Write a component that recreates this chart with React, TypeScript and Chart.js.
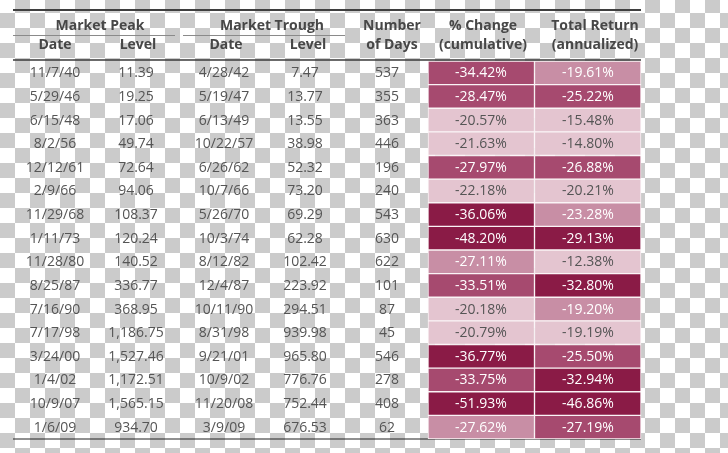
import React, { useEffect, useRef } from "react";
import { Chart, registerables } from "chart.js";
Chart.register(...registerables);

// ---- data ----
const peakDates = ["11/7/40", "5/29/46", "6/15/48", "8/2/56", "12/12/61", "2/9/66", "11/29/68", "1/11/73", "11/28/80", "8/25/87", "7/16/90", "7/17/98", "3/24/00", "1/4/02", "10/9/07", "1/6/09"];
const peakLevels = [11.39, 19.25, 17.06, 49.74, 72.64, 94.06, 108.37, 120.24, 140.52, 336.77, 368.95, 1186.75, 1527.46, 1172.51, 1565.15, 934.7];
const troughDates = ["4/28/42", "5/19/47", "6/13/49", "10/22/57", "6/26/62", "10/7/66", "5/26/70", "10/3/74", "8/12/82", "12/4/87", "10/11/90", "8/31/98", "9/21/01", "10/9/02", "11/20/08", "3/9/09"];
const troughLevels = [7.47, 13.77, 13.55, 38.98, 52.32, 73.2, 69.29, 62.28, 102.42, 223.92, 294.51, 939.98, 965.8, 776.76, 752.44, 676.53];
const numberOfDays = [537, 355, 363, 446, 196, 240, 543, 630, 622, 101, 87, 45, 546, 278, 408, 62];
const pctChange = [-34.42, -28.47, -20.57, -21.63, -27.97, -22.18, -36.06, -48.2, -27.11, -33.51, -20.18, -20.79, -36.77, -33.75, -51.93, -27.62];
const totalReturn = [-19.61, -25.22, -15.48, -14.8, -26.88, -20.21, -23.28, -29.13, -12.38, -32.8, -19.2, -19.19, -25.5, -32.94, -46.86, -27.19];

// ---- styling (shade level per cell, 0 = lightest) ----
const pctShade = [2, 2, 0, 0, 2, 0, 3, 3, 1, 2, 0, 0, 3, 2, 3, 1];
const retShade = [1, 2, 0, 0, 2, 0, 1, 3, 0, 3, 1, 0, 2, 3, 3, 2];
const SHADES = ["#e4c5d0", "#c88ea5", "#a64a6f", "#8a1b46"];

// ---- layout ----
const COL_CENTERS = [55, 136, 224, 305, 387, 481, 588];
const TABLE_LEFT = 13;
const TABLE_RIGHT = 641;
const PCT_CELL = [428, 534.5];
const RET_CELL = [534.5, 641];

const fmtLevel = (v: number) =>
  v.toLocaleString("en-US", { minimumFractionDigits: 2, maximumFractionDigits: 2 });
const fmtPct = (v: number) => v.toFixed(2) + "%";

const FONT = "'Open Sans', 'Noto Sans', sans-serif";

const tablePlugin = {
  id: "tableText",
  beforeDatasetsDraw(chart: any) {
    const { ctx, chartArea } = chart;
    const top = chartArea.top;
    const bottom = chartArea.bottom;
    ctx.save();
    // top rule
    ctx.strokeStyle = "#3f3f3f";
    ctx.lineWidth = 2;
    ctx.beginPath();
    ctx.moveTo(TABLE_LEFT, top - 51);
    ctx.lineTo(TABLE_RIGHT, top - 51);
    ctx.stroke();
    // group rules
    ctx.strokeStyle = "#8a8a8a";
    ctx.lineWidth = 1;
    ctx.beginPath();
    ctx.moveTo(TABLE_LEFT, top - 25.5);
    ctx.lineTo(175, top - 25.5);
    ctx.moveTo(183, top - 25.5);
    ctx.lineTo(345, top - 25.5);
    ctx.stroke();
    // header bottom rule
    ctx.strokeStyle = "#3a3a3a";
    ctx.lineWidth = 1.5;
    ctx.beginPath();
    ctx.moveTo(TABLE_LEFT, top - 1);
    ctx.lineTo(TABLE_RIGHT, top - 1);
    ctx.stroke();
    // bottom rule
    ctx.strokeStyle = "#222";
    ctx.lineWidth = 1.2;
    ctx.beginPath();
    ctx.moveTo(TABLE_LEFT, bottom);
    ctx.lineTo(TABLE_RIGHT, bottom);
    ctx.stroke();
    ctx.restore();
  },
  afterDatasetsDraw(chart: any) {
    const { ctx, chartArea } = chart;
    const yScale = chart.scales.y;
    const xScale = chart.scales.x;
    const top = chartArea.top;
    ctx.save();
    ctx.textAlign = "center";
    ctx.textBaseline = "middle";

    // headers
    ctx.fillStyle = "#474747";
    ctx.font = `bold 14px ${FONT}`;
    const h1 = top - 35;
    const h2 = top - 16;
    ctx.fillText("Market Peak", (TABLE_LEFT + 175) / 2 + 6, h1);
    ctx.fillText("Market Trough", (183 + 345) / 2 + 8, h1);
    ctx.fillText("Date", xScale.getPixelForValue(COL_CENTERS[0]), h2);
    ctx.fillText("Level", xScale.getPixelForValue(COL_CENTERS[1] + 2), h2);
    ctx.fillText("Date", xScale.getPixelForValue(COL_CENTERS[2] + 2), h2);
    ctx.fillText("Level", xScale.getPixelForValue(COL_CENTERS[3] + 3), h2);
    ctx.fillText("Number", xScale.getPixelForValue(392), h1);
    ctx.fillText("of Days", xScale.getPixelForValue(392), h2);
    ctx.fillText("% Change", xScale.getPixelForValue(483), h1);
    ctx.fillText("(cumulative)", xScale.getPixelForValue(483), h2);
    ctx.fillText("Total Return", xScale.getPixelForValue(595), h1);
    ctx.fillText("(annualized)", xScale.getPixelForValue(595), h2);

    // body
    ctx.font = `14px ${FONT}`;
    peakDates.forEach((d, i) => {
      const y = yScale.getPixelForValue(i) + 0.5;
      ctx.fillStyle = "#555555";
      ctx.fillText(d, xScale.getPixelForValue(COL_CENTERS[0]), y);
      ctx.fillText(fmtLevel(peakLevels[i]), xScale.getPixelForValue(COL_CENTERS[1]), y);
      ctx.fillText(troughDates[i], xScale.getPixelForValue(COL_CENTERS[2]), y);
      ctx.fillText(fmtLevel(troughLevels[i]), xScale.getPixelForValue(COL_CENTERS[3]), y);
      ctx.fillText(String(numberOfDays[i]), xScale.getPixelForValue(COL_CENTERS[4]), y);
      ctx.fillStyle = pctShade[i] === 0 ? "#555555" : "#ffffff";
      ctx.fillText(fmtPct(pctChange[i]), xScale.getPixelForValue(COL_CENTERS[5]), y);
      ctx.fillStyle = retShade[i] === 0 ? "#555555" : "#ffffff";
      ctx.fillText(fmtPct(totalReturn[i]), xScale.getPixelForValue(COL_CENTERS[6]), y);
    });
    ctx.restore();
  },
};

export default function App() {
  const canvasRef = useRef<HTMLCanvasElement | null>(null);

  useEffect(() => {
    if (!canvasRef.current) return;
    const chart = new Chart(canvasRef.current, {
      type: "bar",
      data: {
        labels: peakDates,
        datasets: [
          {
            label: "% Change (cumulative)",
            data: pctChange.map(() => PCT_CELL) as any,
            backgroundColor: pctShade.map((s) => SHADES[s]),
            borderColor: "#fbf4f6",
            borderWidth: 1,
            borderSkipped: false,
            barPercentage: 1,
            categoryPercentage: 1,
            grouped: false,
          } as any,
          {
            label: "Total Return (annualized)",
            data: totalReturn.map(() => RET_CELL) as any,
            backgroundColor: retShade.map((s) => SHADES[s]),
            borderColor: "#fbf4f6",
            borderWidth: 1,
            borderSkipped: false,
            barPercentage: 1,
            categoryPercentage: 1,
            grouped: false,
          } as any,
        ],
      },
      options: {
        indexAxis: "y",
        responsive: false,
        animation: false,
        layout: { padding: { top: 61, bottom: 14, left: 0, right: 0 } },
        plugins: {
          legend: { display: false },
          tooltip: { enabled: false },
        },
        scales: {
          x: { type: "linear", min: 0, max: 728, display: false },
          y: { type: "category", offset: true, display: false, grid: { display: false } },
        },
      },
      plugins: [tablePlugin],
    });
    return () => chart.destroy();
  }, []);

  return (
    <div
      style={{
        position: "absolute",
        left: 0,
        top: 0,
        width: 728,
        height: 453,
        backgroundImage: "repeating-conic-gradient(#cbcbcb 0% 25%, #ffffff 0% 50%)",
        backgroundSize: "30px 30px",
        backgroundPosition: "0px -2px",
      }}
    >
      <canvas ref={canvasRef} width={728} height={453} />
    </div>
  );
}
